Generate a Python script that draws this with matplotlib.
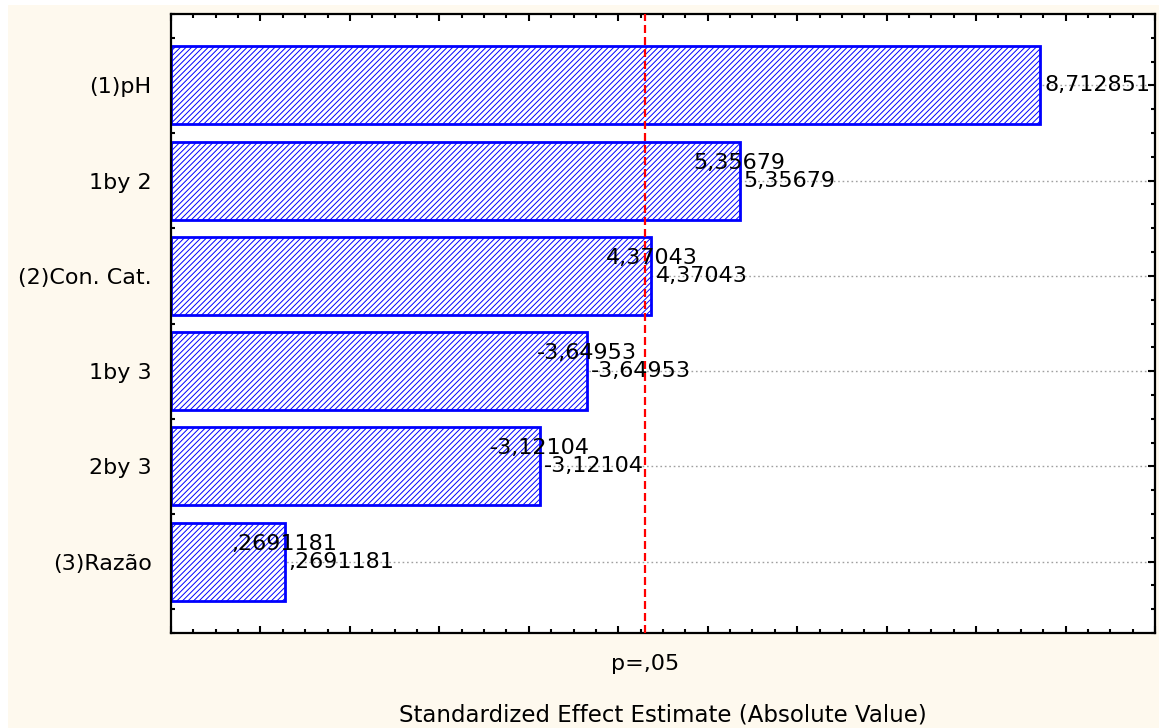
"""
Pareto chart of standardized effects (absolute value), STATISTICA style.
Output: out.png
"""

import matplotlib
matplotlib.use("Agg")
import matplotlib.pyplot as plt
from matplotlib.patches import Rectangle
from matplotlib.ticker import MultipleLocator

plt.rcParams.update({
    'font.family': 'DejaVu Sans',
    'font.size': 16,
    'hatch.linewidth': 0.7,
})

# --- Data -------------------------------------------------------------------
factors = ['(1)pH', '1by 2', '(2)Con. Cat.', '1by 3', '2by 3', '(3)Razão']
effects = [8.712851, 5.35679, 4.37043, -3.64953, -3.12104, 0.2691181]
# STATISTICA prints a second, raised copy of the label on every bar but the first
show_upper = [False, True, True, True, True, True]
t_crit = 4.302653          # p = .05 reference line
p_label = 'p=,05'
x_min, x_max = -1, 10


def fmt(v):
    s = f'{v:.7g}'.replace('.', ',')
    return s.replace('0,', ',', 1) if s.startswith(('0,', '-0,')) else s


CREAM = '#fef9ee'
BLUE = '#0000ff'

fig = plt.figure(figsize=(11.59, 7.28), dpi=100)
fig.patch.set_facecolor('white')
fig.patches.append(Rectangle((8 / 1159, 0), 1, 1 - 5 / 728,
                             transform=fig.transFigure, facecolor=CREAM,
                             edgecolor='none', zorder=-10))

ax = fig.add_axes([171 / 1159, 1 - 633 / 728, (1155 - 171) / 1159, (633 - 14) / 728])
ax.set_facecolor('white')

ypos = list(range(len(factors)))
abs_eff = [abs(v) for v in effects]

# dotted grid lines at the categories
for y in ypos:
    ax.axhline(y, color='#a0a0a0', ls=(0, (1.2, 2)), lw=1.0, zorder=1)

# bars are anchored at the left edge of the axis, as in the original
ax.barh(ypos, [a - x_min for a in abs_eff], height=0.82, left=x_min,
        color='white', edgecolor=BLUE, hatch='//////', linewidth=2, zorder=2)

ax.axvline(t_crit, color='red', ls=(0, (3.6, 1.8)), lw=1.6, zorder=4)

for y, v, a, up in zip(ypos, effects, abs_eff, show_upper):
    ax.annotate(fmt(v), (a, y), xytext=(3, 0), textcoords='offset points',
                ha='left', va='center', zorder=5)
    if up:
        ax.annotate(fmt(v), (a, y), xytext=(0, 13), textcoords='offset points',
                    ha='center', va='center', zorder=5)

ax.set_xlim(x_min, x_max)
ax.set_ylim(5.75, -0.75)

ax.xaxis.set_major_locator(MultipleLocator(1))
ax.xaxis.set_minor_locator(MultipleLocator(0.25))
ax.set_yticks(ypos)
ax.set_yticklabels(factors, fontsize=16)
ax.yaxis.set_minor_locator(MultipleLocator(0.25))
ax.tick_params(which='both', direction='in', top=True, right=True,
               labelbottom=False, color='black', width=1.5)
ax.tick_params(which='major', length=5)
ax.tick_params(which='minor', length=3)
ax.tick_params(axis='y', which='major', pad=14)
for s in ax.spines.values():
    s.set_linewidth(1.6)

ax.annotate(p_label, (t_crit, 0), xycoords=('data', 'axes fraction'),
            xytext=(0, -22), textcoords='offset points', ha='center', va='center')

ax.set_xlabel('Standardized Effect Estimate (Absolute Value)', fontsize=16.5)
ax.xaxis.set_label_coords(0.5, -(715 - 633) / 619)
ax.xaxis.label.set_va('center')

fig.savefig('out.png', dpi=100)
